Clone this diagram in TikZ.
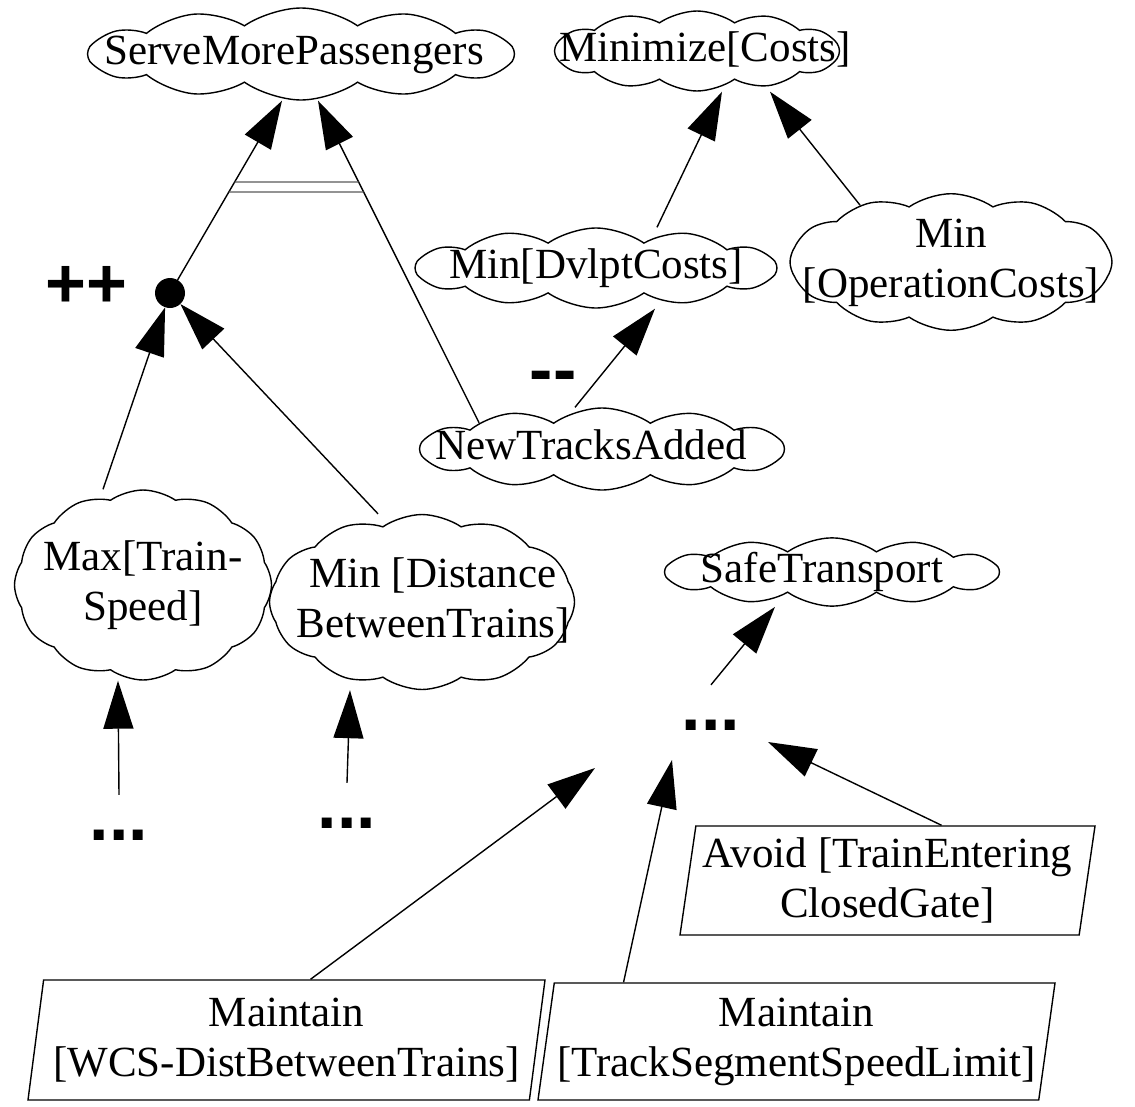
\documentclass[tikz,border=0pt]{standalone}
\usepackage{fontspec}
\setmainfont{Liberation Serif}
\newfontfamily\markfont{Liberation Sans}
\usetikzlibrary{shapes.symbols,shapes.geometric,arrows.meta,intersections}
% goal text: centred lines in a zero-width box (shifted by #1 across, #2 up),
% so the cloud takes its size from the style alone
\newcommand\goaltext[3]{\makebox[0pt]{\kern#1\kern#1\raisebox{#2}{\begin{tabular}{@{}c@{}}#3\end{tabular}}}}

\begin{document}
\begin{tikzpicture}[x=1pt,y=-1pt,
  every node/.style={font=\fontsize{43}{50}\selectfont, align=center},
  goal/.style={cloud, draw, line width=1.4pt, cloud puffs=12, cloud puff arc=70,
    cloud ignores aspect, inner sep=0pt},
  req/.style={trapezium, draw, line width=1.4pt, trapezium left angle=79.5,
    trapezium right angle=100.5, trapezium stretches body, inner sep=0pt},
  signlabel/.style={font={\markfont\bfseries\fontsize{70}{70}\selectfont}, inner sep=0pt},
  dotslabel/.style={signlabel, anchor=base, text height=45pt},
  andpoint/.style={circle, fill=black, inner sep=0pt, minimum size=30pt},
  link/.style={line width=1.4pt, -{Triangle[length=48pt,width=30pt]}},
  bar/.style={line width=1.3pt, black!65},
]
\useasboundingbox (0,0) rectangle (1135,1106);

% soft goals (clouds)
\node[goal, minimum width=427pt, minimum height=92pt]  (serve)     at (301,54)  {\goaltext{-7pt}{1pt}{ServeMorePassengers}};
\node[goal, minimum width=285pt, minimum height=80pt]  (minimize)  at (697,51)  {\goaltext{8pt}{2pt}{Minimize[Costs]}};
\node[goal, minimum width=362pt, minimum height=80pt]  (dvlpt)     at (596,268) {\goaltext{0pt}{0pt}{Min[DvlptCosts]}};
\node[goal, minimum width=322pt, minimum height=135pt] (oper)      at (951,262) {\goaltext{0pt}{2pt}{Min\\{[}OperationCosts]}};
\node[goal, minimum width=365pt, minimum height=82pt]  (newtracks) at (602,449) {\goaltext{-11pt}{7pt}{NewTracksAdded}};
\node[goal, minimum width=257pt, minimum height=190pt] (maxspeed)  at (143,585) {\goaltext{0pt}{12pt}{Max[Train-\\Speed]}};
\node[goal, minimum width=305pt, minimum height=175pt] (mindist)   at (422,602) {\goaltext{11pt}{11pt}{Min [Distance\\BetweenTrains]}};
\node[goal, minimum width=335pt, minimum height=65pt]  (safe)      at (832,572) {\goaltext{-10pt}{1pt}{SafeTransport}};

% requirements (parallelograms)
\node[req, minimum width=415pt, minimum height=109pt] (avoid) at (887.5,880.5) {Avoid [TrainEntering\\ClosedGate]};
\node[req, minimum width=517pt, minimum height=120pt] (wcs)   at (286.5,1040) {Maintain\\{[}WCS-DistBetweenTrains]};
\node[req, minimum width=517pt, minimum height=117pt] (track) at (796.5,1041.5) {Maintain\\{[}TrackSegmentSpeedLimit]};

% AND point, contribution signs, elided subtrees
\node[andpoint] (dot) at (170,293) {};
\node[signlabel] (plus)  at (86,287)  {++};
\node[signlabel] (minus) at (553,382) {-{}-};
\node[dotslabel] (dots1) at (119,840) {...};
\node[dotslabel] (dots2) at (347,828) {...};
\node[dotslabel] (dots3) at (711,730) {...};

% links
\draw[link, name path=leftlink]  (dot) -- ([xshift=-19pt]serve.south);
\draw[link, name path=rightlink] (newtracks.168) -- ([xshift=17pt]serve.south);
\draw[link] ([xshift=-40pt]maxspeed.north) -- (dot);
\draw[link] ([xshift=-44pt]mindist.north) -- (dot);
\draw[link] ([xshift=-27pt]newtracks.north) -- ([xshift=59pt]dvlpt.south);
\draw[link] ([xshift=61pt]dvlpt.north) -- ([xshift=25pt]minimize.south);
\draw[link] (oper.148) -- ([xshift=73pt]minimize.south);
\draw[link] (dots1.north) -- ([xshift=-25pt]maxspeed.south);
\draw[link] (dots2.north) -- ([xshift=-72pt]mindist.south);
\draw[link] (dots3.north) -- ([xshift=-57pt]safe.south);
\draw[link] ([xshift=24pt]wcs.north) -- ([xshift=-116pt,yshift=-38pt]dots3.base);
\draw[link] ([xshift=-173pt]track.north) -- ([xshift=-39pt,yshift=-30pt]dots3.base);
\draw[link] ([xshift=54pt]avoid.north) -- ([xshift=57pt,yshift=-12pt]dots3.base);

% double bar across the two contribution links
\path[name path=upperbar] (0,182) -- (1135,182);
\path[name path=lowerbar] (0,192) -- (1135,192);
\path[name intersections={of=leftlink and upperbar, by=ul}];
\path[name intersections={of=rightlink and upperbar, by=ur}];
\path[name intersections={of=leftlink and lowerbar, by=ll}];
\path[name intersections={of=rightlink and lowerbar, by=lr}];
\draw[bar] (ul) -- (ur);
\draw[bar] (ll) -- (lr);
\end{tikzpicture}
\end{document}
